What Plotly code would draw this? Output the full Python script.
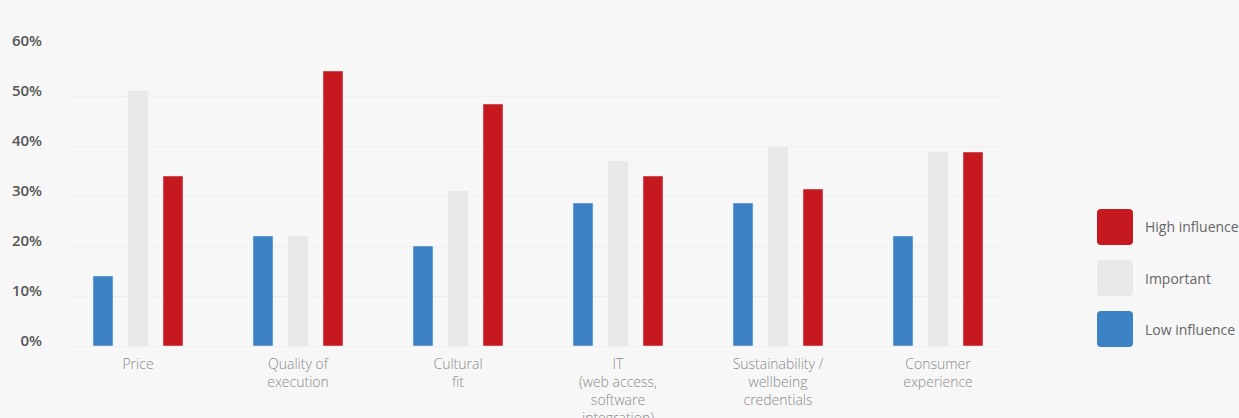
import plotly.graph_objects as go

categories = ["Price", "Quality of<br>execution", "Cultural<br>fit",
              "IT<br>(web access,<br>software<br>integration)",
              "Sustainability /<br>wellbeing<br>credentials", "Consumer<br>experience"]
low_influence = [14, 22, 20, 28.6, 28.6, 22]
important = [51, 22, 31, 37, 39.8, 38.8]
high_influence = [34, 55, 48.4, 34, 31.4, 38.8]
y_ticks = [0, 10, 20, 30, 40, 50, 60]
y_tick_labels = ["0%", "10%", "20%", "30%", "40%", "50%", "60%"]

BLUE = "#3d82c4"
GRAY = "#e9e9e9"
RED = "#c5181f"
BG = "#f7f7f7"

x_idx = list(range(len(categories)))

fig = go.Figure()
fig.add_trace(go.Bar(x=x_idx, y=low_influence, name="Low influence", marker_color=BLUE))
fig.add_trace(go.Bar(x=x_idx, y=important, name="Important", marker_color=GRAY))
fig.add_trace(go.Bar(x=x_idx, y=high_influence, name="High influence", marker_color=RED))

# plot area: x 67..1000, y 46..346 px
W, H = 1239, 418
L, R, T, B = 67, 1000, 46, 346
pw = R - L
ph = B - T
spacing = 160.0
x0 = -(138 - L) / spacing
x1 = x0 + pw / spacing

fig.update_layout(
    width=W, height=H,
    margin=dict(l=L, r=W - R, t=T, b=H - B, pad=0, autoexpand=False),
    paper_bgcolor=BG, plot_bgcolor=BG,
    barmode="group", bargap=55 / 160, bargroupgap=15 / 35,
    showlegend=False,
    font=dict(family="Open Sans, sans-serif"),
    xaxis=dict(
        range=[x0, x1], tickmode="array", tickvals=x_idx, ticktext=categories,
        showgrid=False, zeroline=False, showline=True, linecolor="#efefef", linewidth=1,
        ticks="", tickfont=dict(size=14, color="#8a8a8a", family="Open Sans", weight=300),
        ticklabelstandoff=5, automargin=False,
    ),
    yaxis=dict(
        range=[0, 60], tickmode="array", tickvals=y_ticks, ticktext=y_tick_labels,
        showgrid=True, gridcolor="#efefef", gridwidth=1, zeroline=False,
        showline=False, ticks="", ticklabelposition="outside",
        ticklabelshift=-5,
        tickfont=dict(size=15, color="#555555", family="Open Sans", weight=600),
        ticklabelstandoff=24, automargin=False,
    ),
)

# custom legend (big rounded swatches)
def rounded_path(px0, py0, size, r):
    ax0 = (px0 - L) / pw
    ax1 = (px0 + size - L) / pw
    ay_top = (B - py0) / ph
    ay_bot = (B - py0 - size) / ph
    rx = r / pw
    ry = r / ph
    return (f"M {ax0+rx},{ay_top} L {ax1-rx},{ay_top} Q {ax1},{ay_top} {ax1},{ay_top-ry} "
            f"L {ax1},{ay_bot+ry} Q {ax1},{ay_bot} {ax1-rx},{ay_bot} "
            f"L {ax0+rx},{ay_bot} Q {ax0},{ay_bot} {ax0},{ay_bot+ry} "
            f"L {ax0},{ay_top-ry} Q {ax0},{ay_top} {ax0+rx},{ay_top} Z")

legend_items = [("High influence", RED, 209), ("Important", GRAY, 260), ("Low influence", BLUE, 311)]
for name, color, top in legend_items:
    fig.add_shape(type="path", xref="paper", yref="paper",
                  path=rounded_path(1097, top, 36, 4), fillcolor=color, line_width=0, layer="above")
    fig.add_annotation(xref="paper", yref="paper", x=(1143 - L) / pw, y=(B - (top + 18)) / ph,
                       text=name, showarrow=False, xanchor="left", yanchor="middle",
                       font=dict(size=14, color="#666666", family="Open Sans"))

fig.write_html("out.html")
